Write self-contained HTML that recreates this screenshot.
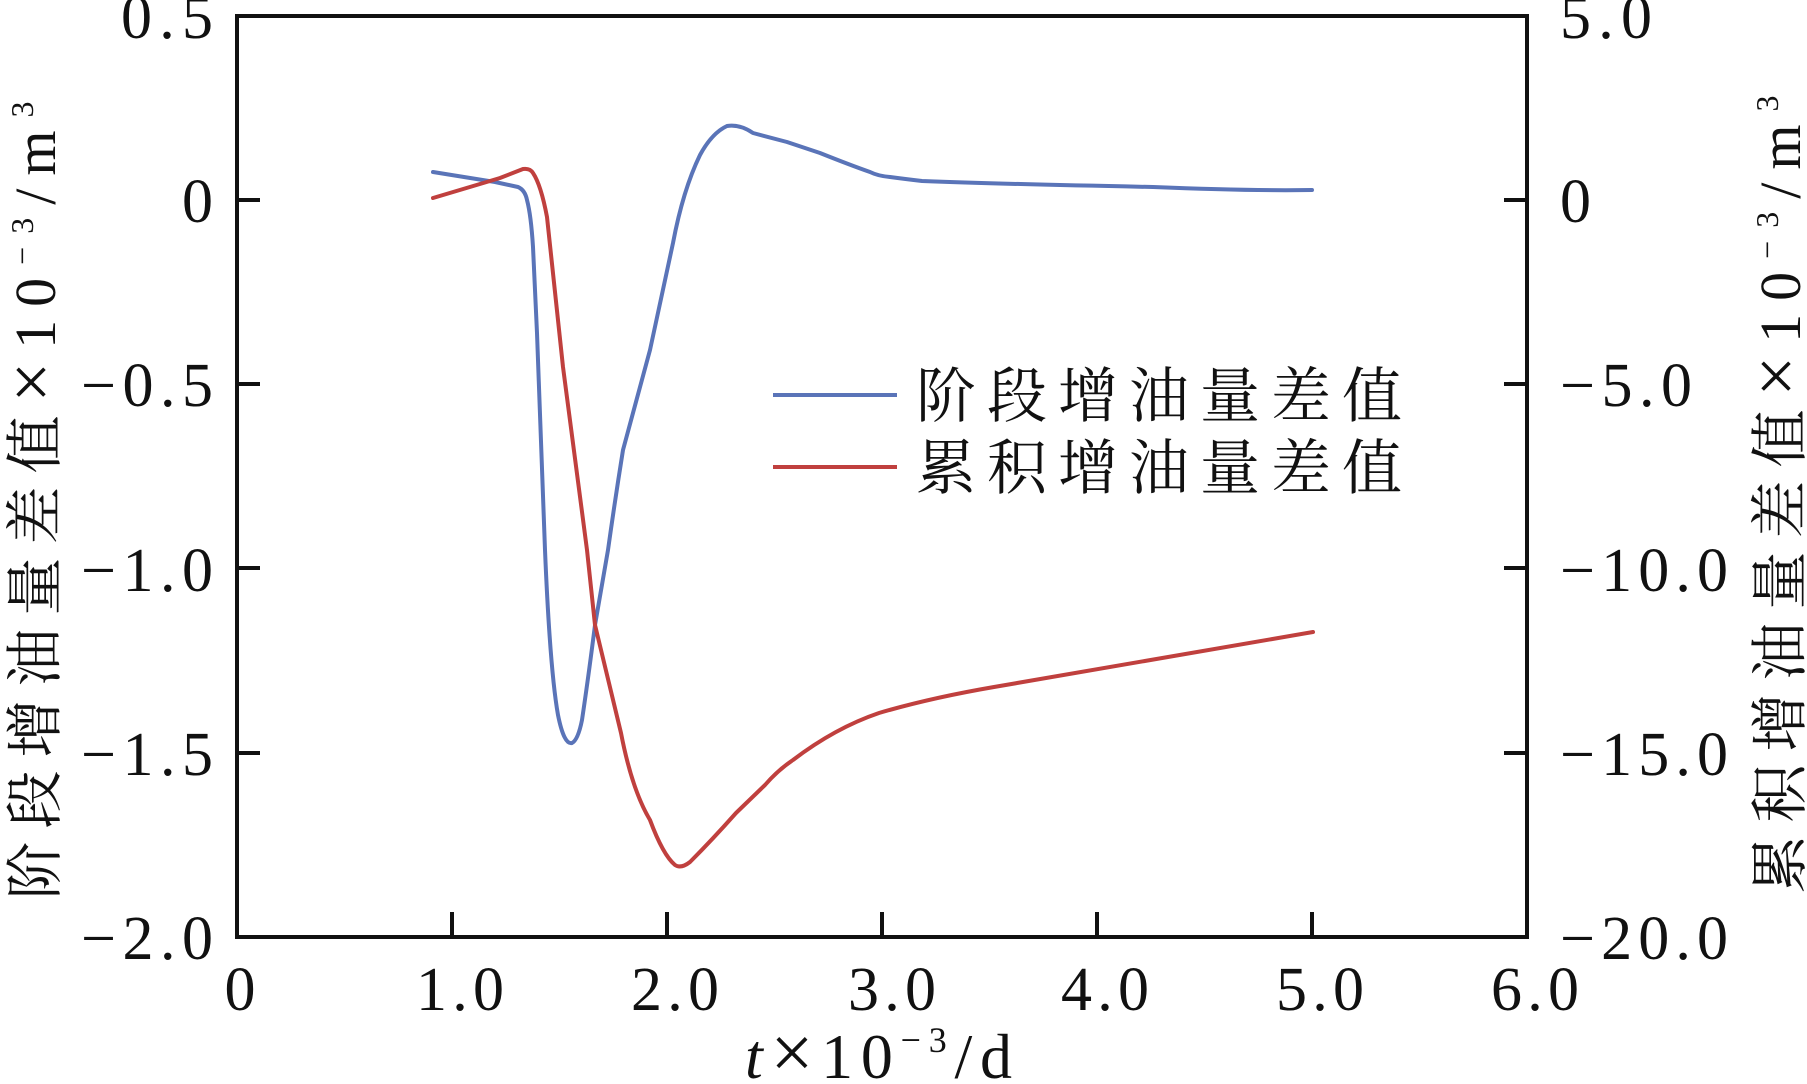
<!DOCTYPE html>
<html><head><meta charset="utf-8"><style>html,body{margin:0;padding:0;background:#fff}svg{display:block}</style></head>
<body>
<svg width="1807" height="1084" viewBox="0 0 1807 1084" xmlns="http://www.w3.org/2000/svg">
<g font-family="'Liberation Serif', serif" fill="#111">
<g font-size="62" text-anchor="end">
<text x="213" y="38" textLength="92">0.5</text>
<text x="213" y="222">0</text>
<text x="213" y="406" textLength="132">−0.5</text>
<text x="213" y="591" textLength="132">−1.0</text>
<text x="213" y="775" textLength="132">−1.5</text>
<text x="213" y="959" textLength="132">−2.0</text>
</g>
<g font-size="62">
<text x="1560" y="38" textLength="92">5.0</text>
<text x="1560" y="222">0</text>
<text x="1560" y="406" textLength="132">−5.0</text>
<text x="1560" y="591" textLength="168">−10.0</text>
<text x="1560" y="775" textLength="168">−15.0</text>
<text x="1560" y="959" textLength="168">−20.0</text>
</g>
<g font-size="62" text-anchor="middle">
<text x="240" y="1010">0</text>
<text x="460" y="1010" textLength="88">1.0</text>
<text x="675" y="1010" textLength="88">2.0</text>
<text x="892" y="1010" textLength="88">3.0</text>
<text x="1105" y="1010" textLength="88">4.0</text>
<text x="1320" y="1010" textLength="88">5.0</text>
<text x="1535" y="1010" textLength="88">6.0</text>
</g>
<text x="745" y="1078" font-size="64" textLength="267"><tspan font-style="italic">t</tspan><tspan font-size="76">×</tspan>10<tspan font-size="36" dy="-26">−3</tspan><tspan dy="26">/d</tspan></text>
<text transform="translate(55,494) rotate(-90)" text-anchor="middle" font-size="58" font-family="'Liberation Serif','Noto Serif CJK SC',serif" letter-spacing="13">阶段增油量差值<tspan font-size="72">×</tspan>10<tspan font-size="32" dy="-22">−3</tspan><tspan dy="22">/m</tspan><tspan font-size="32" dy="-22">3</tspan></text>
<text transform="translate(1800,488) rotate(-90)" text-anchor="middle" font-size="58" font-family="'Liberation Serif','Noto Serif CJK SC',serif" letter-spacing="13">累积增油量差值<tspan font-size="72">×</tspan>10<tspan font-size="32" dy="-22">−3</tspan><tspan dy="22">/m</tspan><tspan font-size="32" dy="-22">3</tspan></text>
<g font-size="60" font-family="'Noto Serif CJK SC',serif" letter-spacing="11">
<text x="916" y="417">阶段增油量差值</text>
<text x="916" y="489">累积增油量差值</text>
</g>
</g>
<line x1="773" y1="395" x2="897" y2="395" stroke="#5a74b8" stroke-width="4"/>
<line x1="773" y1="467" x2="897" y2="467" stroke="#c0403e" stroke-width="4"/>
<g stroke="#111" stroke-width="4" fill="none">
<rect x="237" y="16" width="1290" height="921"/>
<path d="M237 200h23M237 384h23M237 568h23M237 753h23M1527 200h-23M1527 384h-23M1527 568h-23M1527 753h-23M452 937v-25M667 937v-25M882 937v-25M1097 937v-25M1312 937v-25"/>
</g>
<g fill="none" stroke-width="4" stroke-linejoin="round" stroke-linecap="round">
<path stroke="#5a74b8" d="M433 172 L495 182 L518 187 Q525 190 527 200 Q531 215 533 247 L537 333 L545 550 Q550 670 558 715 Q564 745 572 743 Q578 740 582 720 Q588 680 595 625 L608 550 Q615 500 623 450 L650 350 L673 243 Q683 190 700 155 Q712 133 727 126 Q740 124 753 133 L787 142 Q805 148 820 153 Q850 165 870 172 Q878 176 890 177 Q905 179 922 181 Q1000 184 1153 187 Q1250 191 1312 190"/>
<path stroke="#c0403e" d="M433 198 L500 178 L523 169 Q530 168 533 173 Q541 185 547 217 L563 367 L587 550 L595 625 L621 733 Q632 790 650 820 Q663 855 675 865 Q681 869 690 862 Q712 840 736 813 L765 785 Q778 770 793 760 Q835 728 879 713 Q930 698 994 687 Q1150 660 1313 632"/>
</g>
</svg>
</body></html>
